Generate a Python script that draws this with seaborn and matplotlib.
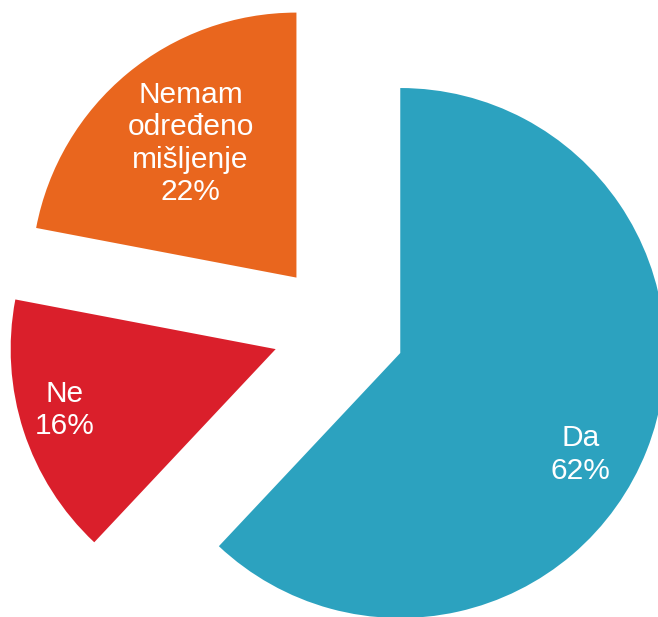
import matplotlib
matplotlib.use("Agg")
import numpy as np
import matplotlib.pyplot as plt
import seaborn as sns

# -----------------------------
# Data
# -----------------------------
labels = ["Da", "Ne", "Nemam\nodređeno\nmišljenje"]
shares = [62, 16, 22]
colors = ["#2CA2BF", "#DA1F2B", "#E9661E"]

# label placement (fraction of radius from wedge apex, angle shift in degrees)
label_dist = [0.78, 0.83, 0.645]
label_shift = [-7.8, -1.9, -1.3]

# -----------------------------
# Style
# -----------------------------
sns.set_theme(style="white")
plt.rcParams["font.family"] = ["Liberation Sans", "DejaVu Sans"]

fig = plt.figure(figsize=(6.58, 6.17), dpi=100)
ax = fig.add_axes([0, 0, 1, 1])

wedges, _ = ax.pie(
    shares,
    colors=colors,
    startangle=90,
    counterclock=False,
    explode=[0.25, 0.25, 0.25],
    radius=1.0,
    wedgeprops={"linewidth": 0}
)

# -----------------------------
# Labels
# -----------------------------
for w, lab, val, d, s in zip(wedges, labels, shares, label_dist, label_shift):
    mid = np.deg2rad((w.theta1 + w.theta2) / 2 + s)
    cx, cy = w.center
    ax.text(
        cx + d * np.cos(mid),
        cy + d * np.sin(mid),
        f"{lab}\n{val}%",
        ha="center",
        va="center",
        color="white",
        fontsize=21.5,
        linespacing=1.2
    )

ax.set_aspect("equal")
ax.set_xlim(-1.278, 1.205)
ax.set_ylim(-1.088, 1.240)
ax.axis("off")

fig.savefig("out.png", dpi=100)
plt.close(fig)
